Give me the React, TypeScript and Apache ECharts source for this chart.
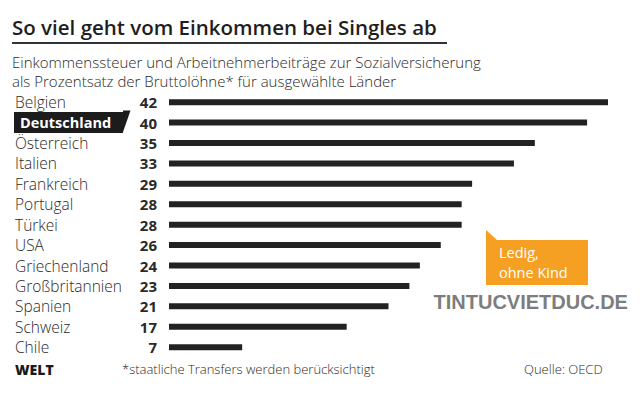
import React, { useEffect, useRef } from "react";
import * as echarts from "echarts";

const countries = [
  "Belgien", "Deutschland", "Österreich", "Italien", "Frankreich", "Portugal", "Türkei",
  "USA", "Griechenland", "Großbritannien", "Spanien", "Schweiz", "Chile",
];
const values = [42, 40, 35, 33, 29, 28, 28, 26, 24, 23, 21, 17, 7];
const highlight = "Deutschland";

const titleText = "So viel geht vom Einkommen bei Singles ab";
const subtitleLines = [
  "Einkommenssteuer und Arbeitnehmerbeiträge zur Sozialversicherung",
  "als Prozentsatz der Bruttolöhne* für ausgewählte Länder",
];
const calloutText = "Ledig,\nohne Kind";
const footnote = "*staatliche Transfers werden berücksichtigt";
const source = "Quelle: OECD";
const watermark = "TINTUCVIETDUC.DE";

const FONT = "'Open Sans', Lato, sans-serif";

export default function App() {
  const ref = useRef<HTMLDivElement>(null);
  useEffect(() => {
    if (!ref.current) return;
    const chart = echarts.init(ref.current, null, { renderer: "svg" });
    chart.setOption({
      animation: false,
      backgroundColor: "#fff",
      textStyle: { fontFamily: FONT },
      grid: { left: 169, right: 32, top: 92, bottom: 37.6 },
      xAxis: { type: "value", min: 0, max: 42, show: false },
      yAxis: {
        type: "category",
        inverse: true,
        data: countries,
        axisLine: { show: false },
        axisTick: { show: false },
        splitLine: { show: false },
        axisLabel: {
          margin: 12,
          formatter: (name: string) => {
            const v = values[countries.indexOf(name)];
            if (name === highlight) return `{d|${name}}{g|}{v|${v}}`;
            return `{n|${name}}{v|${v}}`;
          },
          rich: {
            n: { width: 122, align: "left", fontSize: 15.5, fontWeight: 300, color: "#2a2a2a", fontFamily: FONT },
            d: {
              width: 103, align: "left", fontSize: 14.5, fontWeight: "bold", color: "#fff",
              backgroundColor: "#1c1c1c", padding: [3, 0, 3, 6], lineHeight: 16, fontFamily: FONT,
            },
            g: { width: 14 },
            v: { width: 20, align: "right", fontSize: 15, fontWeight: "bold", color: "#2a2a2a", fontFamily: FONT },
          },
        },
      },
      series: [
        {
          type: "bar",
          data: values,
          barWidth: 6,
          itemStyle: { color: "#222" },
        },
      ],
      graphic: [
        {
          type: "text", x: 12, y: 27,
          style: { text: titleText, font: `600 20.5px ${FONT}`, fill: "#1e1e1e", verticalAlign: "middle" },
        },
        { type: "rect", shape: { x: 12, y: 42, width: 435, height: 2 }, style: { fill: "#333" } },
        {
          type: "text", x: 12, y: 61.5,
          style: { text: subtitleLines[0], font: `300 15px ${FONT}`, fill: "#2a2a2a", verticalAlign: "middle" },
        },
        {
          type: "text", x: 12, y: 80.5,
          style: { text: subtitleLines[1], font: `300 15px ${FONT}`, fill: "#2a2a2a", verticalAlign: "middle" },
        },
        {
          type: "polygon",
          shape: { points: [[123, 110.5], [130.5, 110.5], [123, 132]] },
          style: { fill: "#1c1c1c" },
        },
        {
          type: "polygon",
          shape: { points: [[486, 230], [497, 240], [588, 240], [588, 285], [486, 285]] },
          style: { fill: "#f6a023" },
        },
        {
          type: "text", left: 499, top: 242,
          style: { text: calloutText, font: `500 14.5px ${FONT}`, lineHeight: 20, fill: "#fff" },
        },
        {
          type: "text", left: 433, top: 291,
          style: {
            text: watermark, font: "bold 20px 'Liberation Sans', Arial, sans-serif",
            fill: "#7d7d7d", stroke: "#fff", lineWidth: 1,
            shadowColor: "rgba(0,0,0,0.35)", shadowBlur: 1, shadowOffsetX: 1, shadowOffsetY: 1,
          },
        },
        {
          type: "text", left: 15, top: 362,
          style: { text: "WELT", font: `800 14px ${FONT}`, fill: "#1a1a1a" },
        },
        {
          type: "text", left: 122, top: 362,
          style: { text: footnote, font: `300 13px ${FONT}`, fill: "#2a2a2a" },
        },
        {
          type: "text", left: 524, top: 362,
          style: { text: source, font: `300 13px ${FONT}`, fill: "#2a2a2a" },
        },
      ],
    });
    return () => chart.dispose();
  }, []);
  return (
    <div
      ref={ref}
      style={{ position: "fixed", left: 0, top: 0, width: 640, height: 395 }}
    />
  );
}
